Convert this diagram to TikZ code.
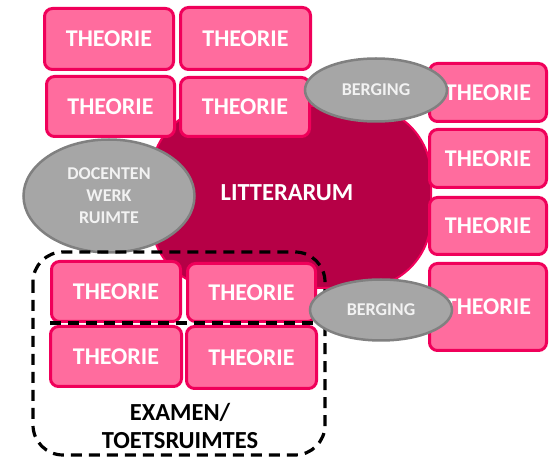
\documentclass[tikz,border=0pt]{standalone}
\usepackage{fontspec}
\setmainfont{Carlito}
\usetikzlibrary{shapes.geometric}
\definecolor{roompink}{RGB}{255,108,158}
\definecolor{roomedge}{RGB}{240,0,90}
\definecolor{hallred}{RGB}{182,0,70}
\definecolor{storegrey}{RGB}{166,166,166}
\definecolor{storeedge}{RGB}{128,128,128}
\definecolor{storetext}{RGB}{242,242,242}

\begin{document}
\begin{tikzpicture}[x=1pt,y=-1pt,
  room/.style={draw=roomedge, fill=roompink, line width=3pt, rounded corners=8pt,
    text=white, font=\fontsize{24}{28}\selectfont\bfseries, inner sep=0pt},
  hall/.style={draw=roomedge, fill=hallred, line width=2pt, rounded corners=70pt},
  store/.style={ellipse, draw=storeedge, fill=storegrey, line width=2.5pt,
    text=storetext, font=\fontsize{18}{22}\selectfont\bfseries, inner sep=0pt},
  exam/.style={draw=black, line width=3.2pt, dash pattern=on 11pt off 7pt}]
\useasboundingbox (0,0) rectangle (550,457);

\node[hall, minimum width=280, minimum height=182] (hall) at (291,197) {};
\node[text=white, font=\fontsize{24.5}{28}\selectfont\bfseries] (hallname) at (287,193) {LITTERARUM};

\node[room, minimum width=129, minimum height=61] (t1) at (109,39) {THEORIE};
\node[room, minimum width=130, minimum height=62] (t2) at (245.5,38.5) {THEORIE};
\node[room, minimum width=128, minimum height=60] (t3) at (110.5,106.5) {THEORIE};
\node[room, minimum width=129, minimum height=59] (t4) at (245,107) {THEORIE};

\node[room, minimum width=117, minimum height=58] (r1) at (488,92.5) {THEORIE};
\node[room, minimum width=117, minimum height=58] (r2) at (488,158.5) {THEORIE};
\node[room, minimum width=117, minimum height=57] (r3) at (488,226) {THEORIE};
\node[room, minimum width=117, minimum height=87] (r4) at (488,307) {THEORIE};

\node[room, minimum width=129, minimum height=60] (b1) at (116,291.5) {THEORIE};
\node[room, minimum width=128, minimum height=58] (b2) at (251.5,292.5) {THEORIE};
\node[room, minimum width=131, minimum height=60] (b3) at (116,356.5) {THEORIE};
\node[room, minimum width=130, minimum height=62] (b4) at (251.5,357.5) {THEORIE};

\node[store, minimum width=171, minimum height=113, align=center] (docent) at (109,196) {DOCENTEN\\WERK\\RUIMTE};

\draw[exam, rounded corners=30pt] (33,252) rectangle (325,455);
\draw[exam] (b1.south west) -- (b2.south east);
\node[font=\fontsize{24.5}{28}\selectfont\bfseries, align=center] (examname) at (180,426) {EXAMEN/\\TOETSRUIMTES};

\node[store, minimum width=142, minimum height=63] (berg1) at (376,90) {BERGING};
\node[store, minimum width=142, minimum height=61] (berg2) at (381,310) {BERGING};
\end{tikzpicture}
\end{document}
